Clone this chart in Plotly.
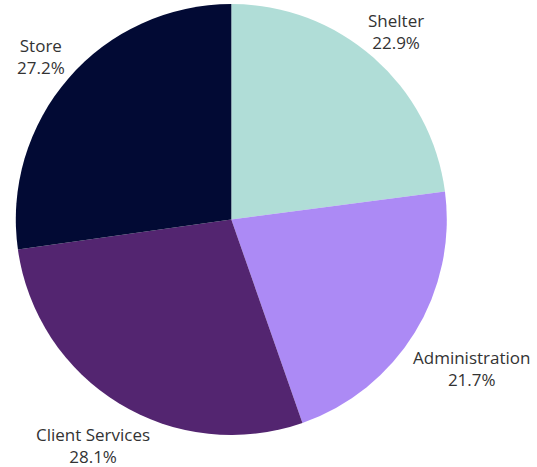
import plotly.graph_objects as go

labels = ["Shelter", "Administration", "Client Services", "Store"]
values = [22.9, 21.7, 28.1, 27.2]
colors = ["#b0ddd7", "#ac8af5", "#532570", "#020a34"]

W, H = 537, 467
cx, cy, r = 231.3, 219.5, 215.5

# label centre positions in pixels (layout only)
label_pos = [(396, 31), (471, 368), (93, 445), (41, 56)]

fig = go.Figure(go.Pie(
    labels=labels,
    values=values,
    sort=False,
    direction="clockwise",
    rotation=0,
    marker=dict(colors=colors, line=dict(width=0)),
    textinfo="none",
    showlegend=False,
    hoverinfo="label+percent",
    domain=dict(x=[(cx - r) / W, (cx + r) / W], y=[(H - cy - r) / H, (H - cy + r) / H]),
))

total = sum(values)
for lab, val, (px, py) in zip(labels, values, label_pos):
    fig.add_annotation(
        x=px / W, y=1 - py / H, xref="paper", yref="paper",
        text=f"{lab}<br>{val / total * 100:.1f}%",
        showarrow=False, xanchor="center", yanchor="middle", align="center",
        font=dict(family="Open Sans", size=17, color="#333333"),
    )

fig.update_layout(
    width=W, height=H,
    margin=dict(l=0, r=0, t=0, b=0),
    paper_bgcolor="white",
    plot_bgcolor="white",
)

fig.write_html(
    "out.html",
    config={"displayModeBar": False},
    post_script="document.body.style.margin='0';document.body.style.padding='0';",
)
